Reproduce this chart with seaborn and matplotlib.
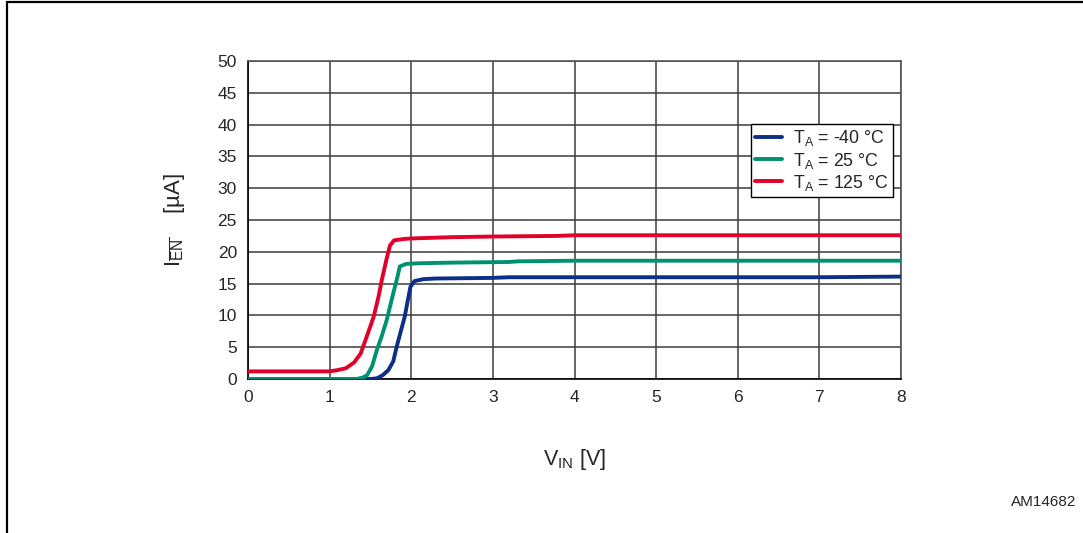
import matplotlib
matplotlib.use("Agg")
import matplotlib.pyplot as plt
import seaborn as sns
import pandas as pd
from matplotlib.lines import Line2D

# ---- data ----
labels = [r"T$_\mathrm{A}$ = -40 °C", r"T$_\mathrm{A}$ = 25 °C", r"T$_\mathrm{A}$ = 125 °C"]
colors = ["#0b2f86", "#00916e", "#e0002a"]

v_m40 = [0, 1.0, 1.5, 1.58, 1.65, 1.72, 1.78, 1.82, 1.87, 1.92, 1.96, 1.99, 2.04, 2.15, 2.3, 3.0, 3.2, 4, 5, 6, 7, 8]
i_m40 = [0, 0, 0, 0.1, 0.6, 1.4, 2.8, 5.0, 7.4, 9.8, 12.5, 14.5, 15.4, 15.7, 15.8, 15.9, 16.0, 16.0, 16.0, 16.0, 16.0, 16.1]

v_25 = [0, 1.0, 1.33, 1.4, 1.46, 1.52, 1.58, 1.64, 1.70, 1.78, 1.83, 1.86, 1.94, 2.1, 2.5, 3.2, 3.3, 4, 5, 6, 7, 8]
i_25 = [0, 0, 0, 0.2, 0.6, 2.0, 4.6, 6.8, 9.3, 13.5, 16.0, 17.7, 18.1, 18.2, 18.3, 18.4, 18.5, 18.6, 18.6, 18.6, 18.6, 18.6]

v_125 = [0, 0.5, 1.0, 1.1, 1.2, 1.3, 1.38, 1.45, 1.54, 1.6, 1.64, 1.7, 1.74, 1.79, 1.9, 2.0, 2.5, 3.0, 3.8, 4.0, 5, 6, 7, 8]
i_125 = [1.2, 1.2, 1.2, 1.4, 1.7, 2.6, 4.0, 6.5, 9.8, 13.0, 15.6, 19.0, 21.0, 21.8, 22.0, 22.1, 22.3, 22.4, 22.5, 22.6, 22.6, 22.6, 22.6, 22.6]

x_ticks = [0, 1, 2, 3, 4, 5, 6, 7, 8]
y_ticks = [0, 5, 10, 15, 20, 25, 30, 35, 40, 45, 50]

frames = []
for lab, v, i in zip(labels, [v_m40, v_25, v_125], [i_m40, i_25, i_125]):
    frames.append(pd.DataFrame({"V": v, "I": i, "T": lab}))
df = pd.concat(frames, ignore_index=True)

# ---- style ----
sns.set_style("white")
plt.rcParams["font.family"] = ["Liberation Sans", "DejaVu Sans"]
plt.rcParams["mathtext.fontset"] = "custom"
plt.rcParams["mathtext.rm"] = "Liberation Sans"
plt.rcParams["mathtext.it"] = "Liberation Sans:italic"
plt.rcParams["mathtext.bf"] = "Liberation Sans:bold"

fig = plt.figure(figsize=(10.83, 5.33), dpi=100)
ax = fig.add_axes([248 / 1083, 1 - 379 / 533, (901 - 248) / 1083, (379 - 61) / 533])

sns.lineplot(data=df, x="V", y="I", hue="T", hue_order=labels, palette=colors,
             sort=False, estimator=None, linewidth=2.8, ax=ax, zorder=3)

ax.set_xlim(0, 8)
ax.set_ylim(0, 50)
ax.set_xticks(x_ticks)
ax.set_yticks(y_ticks)
ax.set_xticklabels([str(t) for t in x_ticks], fontsize=12.5)
ax.set_yticklabels([str(t) for t in y_ticks], fontsize=12.5)
ax.tick_params(axis="both", direction="out", length=5, width=1, color="black", pad=3)
ax.grid(True, color="#3c3c3c", linewidth=1.1)
ax.set_axisbelow(True)
for s in ["top", "right"]:
    ax.spines[s].set_color("#555555")
    ax.spines[s].set_linewidth(1.2)
for s in ["left", "bottom"]:
    ax.spines[s].set_color("black")
    ax.spines[s].set_linewidth(1.2)

ax.set_xlabel(r"V$_\mathrm{IN}$ [V]", fontsize=15.5, labelpad=30)
ax.set_ylabel(r"I$_{\overline{\mathrm{EN}}}$    [µA]", fontsize=16, labelpad=22)

leg = ax.legend(loc="upper left", bbox_to_anchor=((751 - 248) / 653, (379 - 124) / 318),
                fontsize=12.8, frameon=True, fancybox=False, framealpha=1,
                edgecolor="black", handlelength=1.5, handletextpad=0.6,
                borderpad=0.25, labelspacing=0.12, borderaxespad=0)
leg.get_frame().set_linewidth(1.0)
for h in leg.get_lines():
    h.set_linewidth(2.8)

fig.text(1076 / 1083, 1 - 502 / 533, "AM14682", fontsize=11, ha="right", va="center")

# outer frame (left and top edges)
fig.add_artist(Line2D([6.5 / 1083, 6.5 / 1083], [0, 1 - 2 / 533], color="black", linewidth=1.6,
                      transform=fig.transFigure))
fig.add_artist(Line2D([6.5 / 1083, 1], [1 - 2 / 533, 1 - 2 / 533], color="black", linewidth=1.6,
                      transform=fig.transFigure))

fig.savefig("out.png", dpi=100)
